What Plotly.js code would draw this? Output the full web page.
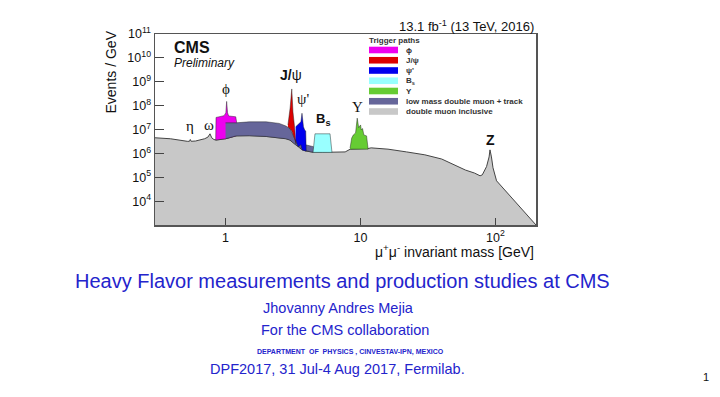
<!DOCTYPE html>
<html><head><meta charset="utf-8">
<script src="https://cdn.plot.ly/plotly-3.0.1.min.js"></script>
<style>html,body{margin:0;padding:0;background:#fff;overflow:hidden}#chart{width:720px;height:397px}</style>
</head><body><div id="chart"></div>
<script>
// ---- data ----
const grayMass = [0.30, 0.39, 0.52, 0.54, 0.548, 0.556, 0.60, 0.70, 0.74, 0.767, 0.79, 0.82, 0.85, 1.0, 1.2, 1.5, 2.0, 2.5, 2.8, 3.0, 3.3, 3.7, 3.95, 4.5, 5.2, 6.15, 7.7, 8.4, 9.5, 11.4, 12, 16, 22, 30, 40, 50, 60, 70, 77, 80, 86, 89.8, 91.2, 93.5, 96, 102, 140, 200];
const grayVals = [4.5e6, 4.1e6, 3.2e6, 3.2e6, 3.8e6, 3.2e6, 3.3e6, 4.1e6, 4.8e6, 6.6e6, 4.5e6, 3.8e6, 3.6e6, 4.1e6, 5.4e6, 5.5e6, 5.1e6, 4.5e6, 4.1e6, 3.6e6, 2.3e6, 1.4e6, 1.25e6, 1.1e6, 1.1e6, 1.1e6, 1.15e6, 1.5e6, 1.5e6, 1.6e6, 1.7e6, 1.5e6, 1.15e6, 8.7e5, 5.8e5, 3.3e5, 2.0e5, 1.5e5, 1.15e5, 1.26e5, 2.8e5, 7.1e5, 1.4e6, 7.1e5, 2.5e5, 7.1e4, 9.3e3, 1.0e3];

const phiMass  = [0.845, 0.85, 0.975, 1.005, 1.019, 1.035, 1.055, 1.19, 1.21];
const phiUpper = [3.6e6, 3.2e7, 3.8e7, 5.0e7, 1.5e8, 5.0e7, 3.7e7, 3.4e7, 1.9e7];
const phiLower = [3.6e6, 3.6e6, 4.0e6, 4.1e6, 4.2e6, 4.5e6, 4.7e6, 5.4e6, 5.4e6];

const lowMass   = [1.0, 1.2, 1.5, 2.0, 2.5, 2.8, 3.0, 3.3, 3.9, 4.5];
const lowUpper  = [1.9e7, 1.9e7, 2.1e7, 2.1e7, 1.8e7, 1.4e7, 1.1e7, 3.6e6, 2.3e6, 1.9e6];
const lowLower  = [4.1e6, 5.4e6, 5.5e6, 5.1e6, 4.5e6, 4.1e6, 3.6e6, 2.3e6, 1.3e6, 1.1e6];

const jpsiMass  = [2.90, 3.01, 3.097, 3.16, 3.25, 3.33];
const jpsiUpper = [1.55e7, 8.0e7, 5.0e8, 5.5e7, 1.2e7, 3.0e6];
const jpsiLower = [1.3e7, 1.07e7, 8.7e6, 6.6e6, 4.1e6, 2.5e6];

const psi2Mass  = [3.31, 3.45, 3.62, 3.686, 3.74, 3.78, 3.86, 3.93, 3.96];
const psi2Upper = [1.3e7, 1.7e7, 2.1e7, 4.8e7, 1.55e7, 1.3e7, 9.5e6, 8.7e6, 1.4e6];
const psi2Lower = [3.6e6, 1.9e6, 2.3e6, 1.4e6, 1.4e6, 1.35e6, 1.3e6, 1.25e6, 1.25e6];

const bsMass  = [4.45, 4.6, 5.95, 6.15];
const bsUpper = [1.1e6, 6.6e6, 6.6e6, 1.1e6];
const bsLower = [1.1e6, 1.1e6, 1.1e6, 1.1e6];

const upsMass  = [8.37, 8.61, 8.85, 9.2, 9.46, 9.7, 10.02, 10.15, 10.36, 10.6, 11.1, 11.4];
const upsUpper = [1.65e6, 4.4e6, 5.9e6, 7.2e6, 3.0e7, 1.2e7, 1.55e7, 9.5e6, 1.1e7, 5.9e6, 5.4e6, 1.65e6];
const upsLower = [1.5e6, 1.5e6, 1.5e6, 1.5e6, 1.5e6, 1.5e6, 1.5e6, 1.5e6, 1.5e6, 1.5e6, 1.5e6, 1.5e6];

const legendLabels = ['ϕ', 'J/ψ', "ψ'", 'B<sub>s</sub>', 'Υ', 'low mass double muon + track', 'double muon inclusive'];
const legendColors = ['#ee00ee', '#dd0000', '#0000ee', '#99ffff', '#66cc33', '#66669a', '#c8c8c8'];

const xTickVals = [1, 10, 100];
const xTickText = ['1', '10', '10<sup>2</sup>'];
const yTickVals = [1e4, 1e5, 1e6, 1e7, 1e8, 1e9, 1e10, 1e11];
const yTickText = ['10<sup>4</sup>', '10<sup>5</sup>', '10<sup>6</sup>', '10<sup>7</sup>', '10<sup>8</sup>', '10<sup>9</sup>', '10<sup>10</sup>', '10<sup>11</sup>'];
const xMinorTicks = [0.4, 0.5, 0.6, 0.7, 0.8, 0.9, 2, 3, 4, 5, 6, 7, 8, 9, 20, 30, 40, 50, 60, 70, 80, 90];
const yMinorTicks = [];
for (let e = 3; e < 11; e++) for (let d = 2; d <= 9; d++) yMinorTicks.push(d * Math.pow(10, e));

// ---- layout helpers ----
const L = 155, T = 34, W = 381, H = 191;
const px = x => (x - L) / W;
const py = y => 1 - (y - T) / H;
const yFloor = 1e3;

function band(mass, upper, lower, color) {
  return {
    x: mass.concat(mass.slice().reverse()),
    y: upper.concat(lower.slice().reverse()),
    type: 'scatter', mode: 'lines', fill: 'toself', fillcolor: color,
    line: {color: 'rgba(30,30,30,0.75)', width: 0.6},
    hoverinfo: 'skip', showlegend: false
  };
}

const traces = [
  {x: grayMass.concat([grayMass[0]]), y: grayVals.concat([yFloor]), type: 'scatter', mode: 'lines',
   fill: 'toself', fillcolor: legendColors[6], line: {width: 0}, showlegend: false, hoverinfo: 'skip'},
  {x: grayMass, y: grayVals, type: 'scatter', mode: 'lines', line: {color: '#444', width: 1}, showlegend: false, hoverinfo: 'skip'},
  band(phiMass, phiUpper, phiLower, legendColors[0]),
  band(lowMass, lowUpper, lowLower, legendColors[5]),
  band(jpsiMass, jpsiUpper, jpsiLower, legendColors[1]),
  band(psi2Mass, psi2Upper, psi2Lower, legendColors[2]),
  band(bsMass, bsUpper, bsLower, legendColors[3]),
  band(upsMass, upsUpper, upsLower, legendColors[4])
];

const sans = 'Liberation Sans, Arial, sans-serif';
const serif = 'Liberation Serif, Times New Roman, serif';
const blue = '#2424cc';
const ann = [];
function A(text, x, y, size, opts) {
  ann.push(Object.assign({text: text, x: px(x), y: py(y), xref: 'paper', yref: 'paper', showarrow: false,
    xanchor: 'center', yanchor: 'middle', font: {family: sans, size: size, color: '#111'}}, opts || {}));
}
const gk = {family: serif, size: 15, color: '#111'};
// particle labels
A('η', 189.5, 126.5, 15, {font: gk});
A('ω', 209, 125, 15, {font: gk});
A('ϕ', 225.7, 89, 15, {font: gk});
A('<b>J/</b>ψ', 291, 75, 14, {font: {family: sans, size: 14, color: '#111'}});
A("ψ'", 303, 99, 15, {font: gk});
A('<b>B<sub>s</sub></b>', 323, 120, 13);
A('Υ', 357, 106.5, 15, {font: gk});
A('<b>Z</b>', 490, 140, 14);
// chart texts
A('<b>CMS</b>', 172, 48, 16, {xanchor: 'left'});
A('<i>Preliminary</i>', 172, 63, 12, {xanchor: 'left'});
A('13.1 fb<sup>-1</sup> (13 TeV, 2016)', 536, 26, 13, {xanchor: 'right'});
A('Events / GeV', 110, 72.5, 14, {textangle: -90});
A('μ<sup>+</sup>μ<sup>-</sup> invariant mass [GeV]', 536, 251.5, 14, {xanchor: 'right'});
// legend
A('<b>Trigger paths</b>', 367, 40, 8, {xanchor: 'left', font: {family: sans, size: 8, color: '#333'}});
const shapes = [];
legendLabels.forEach((lab, i) => {
  const yc = 50 + i * 10.25;
  shapes.push({type: 'rect', xref: 'paper', yref: 'paper', x0: px(369), x1: px(398), y0: py(yc + 3.3), y1: py(yc - 3.3),
    fillcolor: legendColors[i], line: {width: 0}});
  A('<b>' + lab + '</b>', 404, yc, 8, {xanchor: 'left', font: {family: sans, size: 8, color: '#333'}});
});
// slide texts
A('Heavy Flavor measurements and production studies at CMS', 342, 281, 20, {font: {family: sans, size: 20, color: blue}});
A('Jhovanny Andres Mejia', 338, 308, 14.5, {font: {family: sans, size: 14.5, color: blue}});
A('For the CMS collaboration', 345, 330, 14.5, {font: {family: sans, size: 14.5, color: blue}});
A('<b>DEPARTMENT  OF  PHYSICS , CINVESTAV-IPN, MEXICO</b>', 350, 352, 7, {font: {family: sans, size: 7, color: blue}});
A('DPF2017, 31 Jul-4 Aug 2017, Fermilab.', 337, 369, 14.5, {font: {family: sans, size: 14.5, color: blue}});
A('1', 706, 377, 11, {font: {family: sans, size: 11, color: '#111'}});

const axisCommon = {type: 'log', showgrid: false, zeroline: false, showline: true, linecolor: '#555', linewidth: 1.5,
  mirror: true, ticks: 'inside', tickcolor: '#444', tickwidth: 1, tickmode: 'array', fixedrange: true, layer: 'above traces',
  tickfont: {family: sans, size: 12.5, color: '#111'}};
const minorCommon = {type: 'log', showgrid: false, zeroline: false, showline: false, ticks: 'inside', tickmode: 'array',
  showticklabels: false, fixedrange: true, layer: 'above traces', tickwidth: 1};

const layout = {
  width: 720, height: 397, margin: {l: L, r: 720 - L - W, t: T, b: 397 - T - H},
  paper_bgcolor: '#fff', plot_bgcolor: '#fff', showlegend: false,
  xaxis: Object.assign({}, axisCommon, {range: [Math.log10(0.3), Math.log10(200)], tickvals: xTickVals, ticktext: xTickText, ticklen: 7}),
  yaxis: Object.assign({}, axisCommon, {range: [3, 11], tickvals: yTickVals, ticktext: yTickText, ticklen: 9}),
  xaxis2: Object.assign({}, minorCommon, {overlaying: 'x', anchor: 'y', side: 'bottom', range: [Math.log10(0.3), Math.log10(200)],
    tickvals: xMinorTicks, ticklen: 4, tickcolor: '#555'}),
  yaxis2: Object.assign({}, minorCommon, {overlaying: 'y', anchor: 'x', side: 'left', range: [3, 11],
    tickvals: yMinorTicks, ticklen: 5, tickcolor: '#666'}),
  annotations: ann, shapes: shapes
};
Plotly.newPlot('chart', traces, layout, {displayModeBar: false, staticPlot: true});
</script></body></html>
